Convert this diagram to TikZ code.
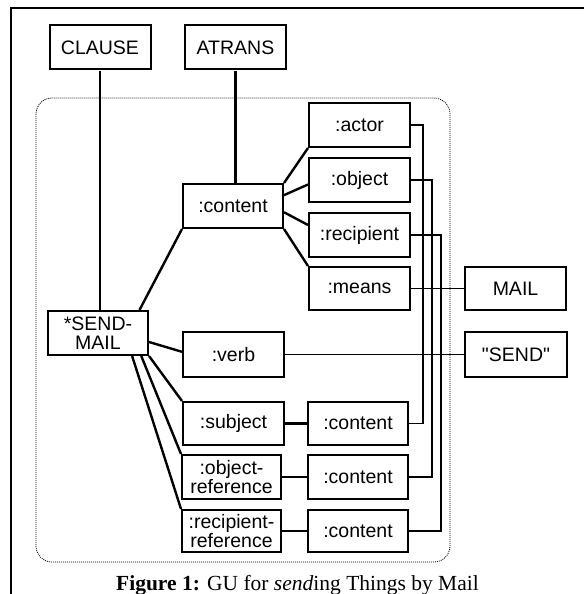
\documentclass[tikz,border=0pt]{standalone}
\usepackage{fontspec}
\setmainfont{Liberation Serif}
\setsansfont{Liberation Sans}

\tikzset{
  gubox/.style={draw, line width=2pt, inner sep=0pt, align=center,
    minimum width=101pt, minimum height=44pt,
    font=\sffamily\fontsize{19.5}{19}\selectfont},
  link/.style={line width=2.4pt},
  route/.style={line width=1.6pt},
  unitline/.style={line width=0.8pt, dash pattern=on 1pt off 1pt, rounded corners=16pt}
}

\begin{document}
\begin{tikzpicture}[x=1pt, y=-1pt]
  \useasboundingbox (0,0) rectangle (584,594);

  % Frame of the figure (top and left edges)
  \draw[line width=1.6pt] (584,8) -- (11,8) -- (11,594);

  % The unit that makes up *SEND-MAIL
  \draw[unitline] (36,98) rectangle (450,562);

  % Top level boxes
  \node[gubox] (clause) at (100,47.5) {CLAUSE};
  \node[gubox] (atrans) at (235.5,47.5) {ATRANS};

  % The content and its roles
  \node[gubox, minimum width=100pt] (content) at (233,206) {:content};
  \node[gubox] (actor) at (359.5,125) {:actor};
  \node[gubox] (object) at (359.5,180) {:object};
  \node[gubox] (recipient) at (359.5,235) {:recipient};
  \node[gubox, minimum height=43pt] (means) at (359.5,288.5) {:means};
  \node[gubox, minimum height=43pt] (mail) at (515.5,288.5) {MAIL};

  % The unit itself and its features
  \node[gubox, minimum width=100pt] (sendmail) at (98,333) {*SEND-\\MAIL};
  \node[gubox, minimum height=45pt] (verb) at (233.5,354.5) {:verb};
  \node[gubox, minimum width=102pt, minimum height=45pt] (send) at (516,354.5) {\textquotedbl SEND\textquotedbl};
  \node[gubox, minimum height=43pt] (subject) at (233.5,423.5) {:subject};
  \node[gubox, minimum width=99pt] (objref) at (231.5,477) {:object-\\reference};
  \node[gubox, minimum width=99pt, minimum height=42pt] (recref) at (231.5,531) {:recipient-\\reference};
  \node[gubox, minimum width=100pt, minimum height=43pt] (subjcont) at (358,423.5) {:content};
  \node[gubox, minimum width=100pt] (objcont) at (358,477) {:content};
  \node[gubox, minimum width=100pt, minimum height=42pt] (reccont) at (358,531) {:content};

  % Tree edges
  \draw[link] (clause.south) -- (clause.south |- sendmail.north);
  \draw[link] (atrans.south) -- (atrans.south |- content.north);
  \draw[link] (content.north east) -- (actor.south west);
  \draw[link] (content.12) -- (object.185);
  \draw[link] (content.-7) -- (recipient.169);
  \draw[link] (content.south east) -- (means.north west);
  \draw[link] (sendmail.29) -- (content.south west);
  \draw[link] (sendmail.-10) -- (verb.177);
  \draw[link] (sendmail.south east) -- (subject.north west);
  \draw[link] (sendmail.-28) -- (objref.north west);
  \draw[link] (sendmail.-34) -- (recref.north west);
  \draw[link] (subject.east) -- (subjcont.west);
  \draw[link] (objref.east) -- (objcont.west);
  \draw[link] (recref.east) -- (reccont.west);

  % Values of the features
  \draw[route] (means.east) -- (mail.west);
  \draw[route] (verb.east) -- (send.west);

  % Shared values between roles and features
  \draw[route] (actor.east) -- ++(12,0) |- (subjcont.east);
  \draw[route] (object.east) -- ++(21,0) |- (objcont.east);
  \draw[route] (recipient.east) -- ++(30,0) |- (reccont.east);

  % Caption
  \node (caption) at (297.5,585) {\fontsize{21.5}{23}\selectfont\textbf{Figure 1:} GU for \textit{send}ing Things by Mail};
\end{tikzpicture}
\end{document}
